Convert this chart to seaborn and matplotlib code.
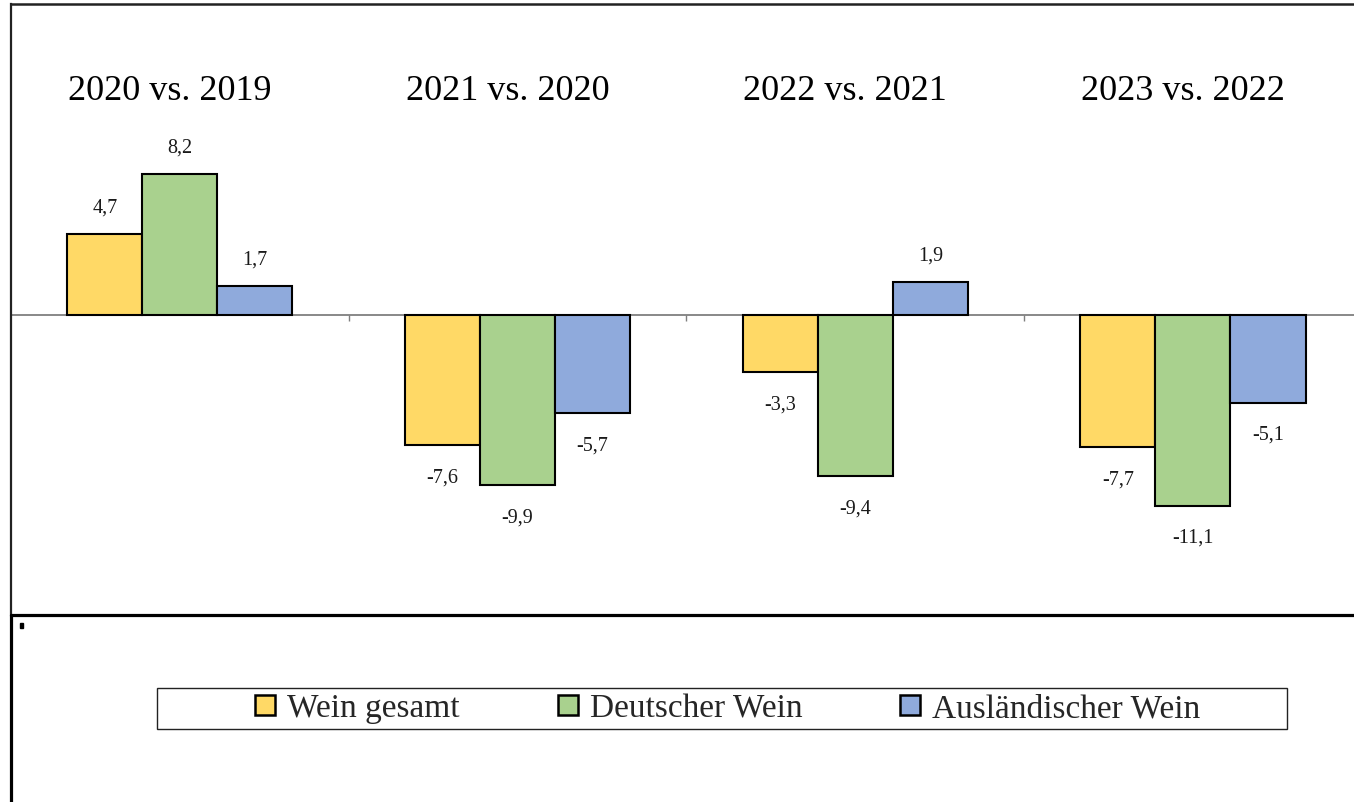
import matplotlib
matplotlib.use("Agg")
import matplotlib.pyplot as plt
from matplotlib.lines import Line2D
from matplotlib.patches import Rectangle
import seaborn as sns
import pandas as pd

# Year-over-year change (%) by wine type
periods = ["2020 vs. 2019", "2021 vs. 2020", "2022 vs. 2021", "2023 vs. 2022"]
series = ["Wein gesamt", "Deutscher Wein", "Ausländischer Wein"]
wein_gesamt = [4.7, -7.6, -3.3, -7.7]
deutscher_wein = [8.2, -9.9, -9.4, -11.1]
auslaendischer_wein = [1.7, -5.7, 1.9, -5.1]
colors = ["#FFD966", "#A9D18E", "#8FAADC"]

values = [wein_gesamt, deutscher_wein, auslaendischer_wein]
df = pd.DataFrame(
    [(p, s, v) for s, vals in zip(series, values) for p, v in zip(periods, vals)],
    columns=["period", "type", "value"],
)

sns.set_theme(style="white")
plt.rcParams["font.family"] = ["Liberation Serif", "DejaVu Serif"]

W, H = 1354, 803
fig = plt.figure(figsize=(W / 100, H / 100), dpi=100)
fig.patch.set_facecolor("white")

# plot area in pixel coordinates
left_px, top_px, bottom_px = 11, 5, 616
cat_px = 337.7
ax = fig.add_axes([left_px / W, 1 - bottom_px / H,
                   4 * cat_px / W, (bottom_px - top_px) / H])
ax.set_facecolor("white")

sns.barplot(data=df, x="period", y="value", hue="type", order=periods,
            hue_order=series, palette=colors, width=0.667, dodge=True,
            edgecolor="black", linewidth=1.5, saturation=1, ax=ax,
            legend=False, zorder=3)

px_per_unit = 17.17
ax.set_xlim(-0.5, 3.5)
ax.set_ylim(-(bottom_px - 316) / px_per_unit, (316 - top_px) / px_per_unit)

# value labels
for cont, vals in zip(ax.containers, values):
    for bar, v in zip(cont, vals):
        xc = bar.get_x() + bar.get_width() / 2
        off = 19.5 if v >= 0 else -23
        ax.annotate(f"{v:.1f}".replace(".", ","), (xc, v),
                    xytext=(0, off), textcoords="offset points",
                    ha="center", va="center", fontsize=14.5, color="#1a1a1a")

# period headings
for i, p in enumerate(periods):
    ax.text(i - 0.03, (316 - 91) / px_per_unit, p, ha="center", va="center",
            fontsize=26, color="black")

# zero baseline with tick marks between periods
ax.spines["right"].set_visible(False)
ax.spines["bottom"].set_position(("data", 0))
ax.spines["bottom"].set_color("#7f7f7f")
ax.spines["bottom"].set_linewidth(1.3)
ax.spines["bottom"].set_zorder(2)
ax.spines["left"].set_color("#222222")
ax.spines["left"].set_linewidth(1.6)
ax.spines["top"].set_color("#222222")
ax.spines["top"].set_linewidth(1.8)
ax.set_xticks([0.5, 1.5, 2.5])
ax.set_xticklabels([])
ax.set_yticks([])
ax.set_xlabel("")
ax.set_ylabel("")
ax.tick_params(axis="x", direction="out", length=4, width=1, color="#7f7f7f",
               bottom=True)

# lower panel frame
fig.add_artist(Line2D([left_px / W, 1], [1 - 616 / H] * 2, color="black",
                      lw=2.3, transform=fig.transFigure))
fig.add_artist(Line2D([left_px / W] * 2, [0, 1 - 616 / H], color="black",
                      lw=2.3, transform=fig.transFigure))
fig.add_artist(Rectangle((19.5 / W, 1 - 629 / H), 3 / W, 5 / H,
                         transform=fig.transFigure, color="black"))

# legend frame and entries
fig.add_artist(Rectangle((157 / W, 1 - 730 / H), (1287 - 157) / W, 41 / H,
                         transform=fig.transFigure, facecolor="white",
                         edgecolor="#222222", lw=1.0))
handles = [Line2D([], [], marker="s", linestyle="none", markersize=14,
                  markerfacecolor=c, markeredgecolor="black",
                  markeredgewidth=1.8) for c in colors]
fig.legend(handles, series, loc="center", bbox_to_anchor=(727 / W, 1 - 709 / H),
           ncol=3, frameon=False, fontsize=24, handlelength=0.7,
           handletextpad=0.3, columnspacing=2.9, borderaxespad=0)

fig.savefig("out.png", dpi=100, facecolor="white")
